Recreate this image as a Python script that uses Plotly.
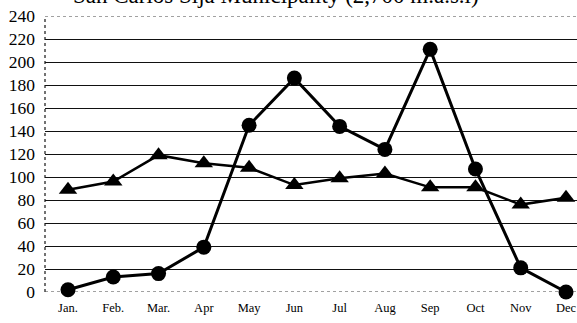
import plotly.graph_objects as go

months = ["Jan.", "Feb.", "Mar.", "Apr", "May", "Jun", "Jul", "Aug", "Sep", "Oct", "Nov", "Dec"]
# Monthly series (circles and triangles)
series_circle = [2, 13, 16, 39, 145, 186, 144, 124, 211, 107, 21, 0]
series_triangle = [89, 96, 119, 112, 108, 93, 99, 103, 91, 91, 76, 82]
y_ticks = list(range(0, 241, 20))

serif = "Liberation Serif, Times New Roman, serif"
x_idx = list(range(len(months)))

fig = go.Figure()
fig.add_trace(go.Scatter(
    x=x_idx, y=series_triangle, mode="lines+markers",
    line=dict(color="black", width=2.5),
    marker=dict(symbol="triangle-up", size=16, color="black"),
    cliponaxis=False, showlegend=False,
))
fig.add_trace(go.Scatter(
    x=x_idx, y=series_circle, mode="lines+markers",
    line=dict(color="black", width=3),
    marker=dict(symbol="circle", size=15, color="black"),
    cliponaxis=False, showlegend=False,
))

# dotted frame lines at the top, bottom and left of the plot area
for yv in (0, 240):
    fig.add_shape(type="line", xref="paper", yref="y", x0=0, x1=1, y0=yv, y1=yv,
                  line=dict(color="#444", width=1.2, dash="dot"), layer="below")
fig.add_shape(type="line", xref="paper", yref="paper", x0=0, x1=0, y0=0, y1=1,
              line=dict(color="#444", width=1.5, dash="dot"), layer="below")

fig.add_annotation(
    text="San Carlos Sija Municipality (2,700 m.a.s.l)",
    xref="paper", yref="paper", x=0.435, y=1.0, yshift=6,
    xanchor="center", yanchor="bottom", showarrow=False,
    font=dict(family=serif, size=23, color="black"),
)

fig.update_layout(
    width=577, height=323,
    margin=dict(l=45, r=0, t=16, b=31),
    paper_bgcolor="white", plot_bgcolor="white",
    xaxis=dict(
        range=[-0.508, 11.243], tickmode="array", tickvals=x_idx, ticktext=months,
        showgrid=False, zeroline=False, showline=False,
        tickfont=dict(family=serif, size=12.5, color="black"),
        ticks="", ticklabelstandoff=6,
    ),
    yaxis=dict(
        range=[0, 240], tickmode="array", tickvals=y_ticks,
        showgrid=True, gridcolor="#111", gridwidth=1.3,
        zeroline=False, showline=False,
        tickfont=dict(family=serif, size=17.5, color="black"),
        ticks="", ticklabelstandoff=9,
    ),
)

fig.write_html("out.html")
